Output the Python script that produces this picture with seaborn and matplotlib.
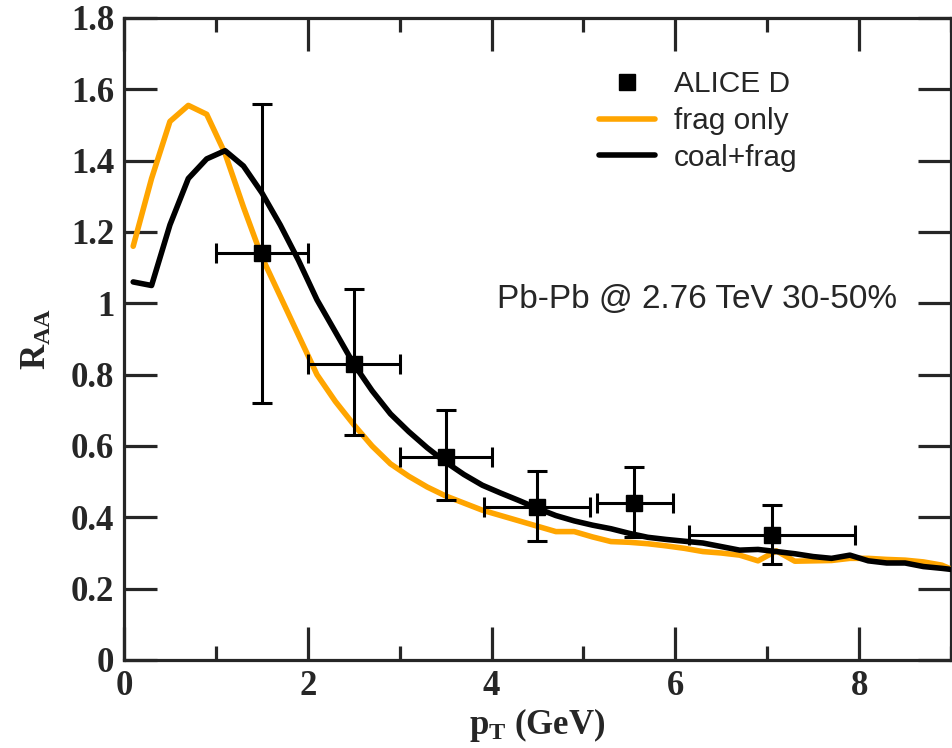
import matplotlib
matplotlib.use("Agg")
import matplotlib.pyplot as plt
from matplotlib.lines import Line2D
from matplotlib.ticker import MultipleLocator
import seaborn as sns
import pandas as pd

# ---- data ----
frag_x = [0.1, 0.3, 0.5, 0.7, 0.9, 1.1, 1.3, 1.5, 1.7, 1.9, 2.1, 2.3, 2.5, 2.7, 2.9, 3.1, 3.3,
          3.5, 3.7, 3.9, 4.1, 4.3, 4.5, 4.7, 4.9, 5.1, 5.3, 5.5, 5.7, 5.9, 6.1, 6.3, 6.5, 6.7,
          6.9, 7.1, 7.3, 7.5, 7.7, 7.9, 8.1, 8.3, 8.5, 8.7, 8.9, 9.0]
frag_y = [1.16, 1.35, 1.51, 1.555, 1.53, 1.42, 1.27, 1.13, 1.02, 0.91, 0.80, 0.725, 0.66, 0.60,
          0.55, 0.515, 0.485, 0.46, 0.44, 0.42, 0.405, 0.39, 0.375, 0.36, 0.36, 0.345, 0.332,
          0.33, 0.326, 0.32, 0.313, 0.304, 0.30, 0.294, 0.278, 0.306, 0.277, 0.278, 0.279,
          0.285, 0.285, 0.282, 0.28, 0.275, 0.266, 0.255]

coal_x = [0.1, 0.3, 0.5, 0.7, 0.9, 1.1, 1.3, 1.5, 1.7, 1.9, 2.1, 2.3, 2.5, 2.7, 2.9, 3.1, 3.3,
          3.5, 3.7, 3.9, 4.1, 4.3, 4.5, 4.7, 4.9, 5.1, 5.3, 5.5, 5.7, 5.9, 6.1, 6.3, 6.5, 6.7,
          6.9, 7.1, 7.3, 7.5, 7.7, 7.9, 8.1, 8.3, 8.5, 8.7, 8.9, 9.0]
coal_y = [1.06, 1.05, 1.22, 1.35, 1.405, 1.428, 1.385, 1.31, 1.22, 1.12, 1.01, 0.92, 0.83, 0.755,
          0.69, 0.64, 0.595, 0.555, 0.52, 0.49, 0.468, 0.447, 0.425, 0.405, 0.39, 0.378, 0.368,
          0.355, 0.344, 0.338, 0.333, 0.328, 0.318, 0.308, 0.31, 0.304, 0.298, 0.29, 0.285,
          0.294, 0.278, 0.272, 0.272, 0.262, 0.257, 0.254]

alice_x = [1.5, 2.5, 3.5, 4.5, 5.55, 7.05]
alice_y = [1.14, 0.83, 0.57, 0.43, 0.44, 0.35]
alice_xerr_lo = [0.5, 0.5, 0.5, 0.58, 0.4, 0.9]
alice_xerr_hi = [0.5, 0.5, 0.5, 0.57, 0.42, 0.9]
alice_yerr_lo = [0.42, 0.20, 0.12, 0.095, 0.095, 0.08]
alice_yerr_hi = [0.42, 0.21, 0.13, 0.10, 0.10, 0.085]

x_ticks = [0, 2, 4, 6, 8]
y_ticks = [0, 0.2, 0.4, 0.6, 0.8, 1.0, 1.2, 1.4, 1.6, 1.8]
y_ticklabels = ["0", "0.2", "0.4", "0.6", "0.8", "1", "1.2", "1.4", "1.6", "1.8"]

ORANGE = "#FFA500"

sns.set_style("ticks")
plt.rcParams["font.family"] = ["Liberation Sans", "DejaVu Sans"]
plt.rcParams["mathtext.fontset"] = "custom"
plt.rcParams["mathtext.rm"] = "Liberation Serif:bold"
plt.rcParams["mathtext.bf"] = "Liberation Serif:bold"
plt.rcParams["mathtext.it"] = "Liberation Serif:bold"

fig = plt.figure(figsize=(9.53, 7.48), dpi=100)
ax = fig.add_axes([124 / 953, 1 - 660 / 748, (951 - 124) / 953, (660 - 18) / 748])

df_frag = pd.DataFrame({"pT": frag_x, "RAA": frag_y})
df_coal = pd.DataFrame({"pT": coal_x, "RAA": coal_y})
sns.lineplot(data=df_frag, x="pT", y="RAA", ax=ax, color=ORANGE, lw=4.0, sort=False,
             estimator=None, zorder=3)
sns.lineplot(data=df_coal, x="pT", y="RAA", ax=ax, color="black", lw=4.0, sort=False,
             estimator=None, zorder=4)

ax.errorbar(alice_x, alice_y,
            xerr=[alice_xerr_lo, alice_xerr_hi],
            yerr=[alice_yerr_lo, alice_yerr_hi],
            fmt="s", color="black", ms=12, elinewidth=2.2, capsize=7, capthick=2.2,
            zorder=5)

ax.set_xlim(0, 9)
ax.set_ylim(0, 1.8)
ax.set_xticks(x_ticks)
ax.xaxis.set_minor_locator(MultipleLocator(1))
ax.set_yticks(y_ticks)
ax.set_yticklabels(y_ticklabels)

for s in ax.spines.values():
    s.set_linewidth(2.3)
    s.set_visible(True)
ax.tick_params(which="major", direction="in", length=24, width=2.3, top=True, right=True,
               labelsize=25, pad=7)
ax.tick_params(which="minor", direction="in", length=10, width=2.3, top=True, right=True)
for lab in ax.get_xticklabels() + ax.get_yticklabels():
    lab.set_family("Liberation Serif")
    lab.set_fontweight("bold")

ax.set_xlabel(r"p$_\mathbf{T}$ (GeV)", fontsize=25, fontweight="bold",
              family="Liberation Serif", labelpad=2)
ax.set_ylabel(r"R$_\mathbf{AA}$", fontsize=25, fontweight="bold",
              family="Liberation Serif", labelpad=12)

ax.text(4.06, 1.01, "Pb-Pb @ 2.76 TeV 30-50%", fontsize=24, va="center", ha="left",
        family="Liberation Sans")

handles = [
    Line2D([], [], marker="s", color="black", ls="none", ms=12),
    Line2D([], [], color=ORANGE, lw=4.0),
    Line2D([], [], color="black", lw=4.0),
]
labels = ["ALICE D", "frag only", "coal+frag"]
fig.legend(handles, labels, loc="upper left", bbox_to_anchor=(599 / 953, 1 - 70 / 748),
           frameon=False, fontsize=21.5, handlelength=1.87, handletextpad=0.64,
           labelspacing=0.3, borderpad=0, borderaxespad=0)

fig.savefig("out.png", dpi=100)
